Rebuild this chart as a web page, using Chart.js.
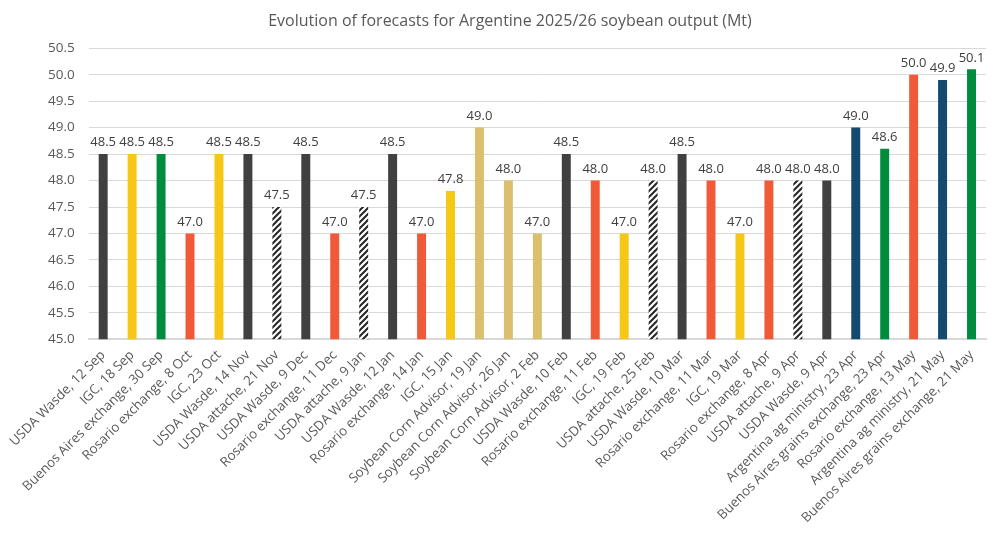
<!DOCTYPE html>
<html>
<head>
<meta charset="utf-8">
<script src="https://cdn.jsdelivr.net/npm/chart.js@4"></script>
<style>
  html, body { margin: 0; padding: 0; background: #fff; }
  #wrap { width: 1000px; height: 536px; }
</style>
</head>
<body>
<div id="wrap"><canvas id="myBarChart" width="1000" height="536"></canvas></div>
<script>
var labels = [
  'USDA Wasde, 12 Sep', 'IGC, 18 Sep', 'Buenos Aires exchange, 30 Sep', 'Rosario exchange, 8 Oct',
  'IGC, 23 Oct', 'USDA Wasde, 14 Nov', 'USDA attache, 21 Nov', 'USDA Wasde, 9 Dec',
  'Rosario exchange, 11 Dec', 'USDA attache, 9 Jan', 'USDA Wasde, 12 Jan', 'Rosario exchange, 14 Jan',
  'IGC, 15 Jan', 'Soybean Corn Advisor, 19 Jan', 'Soybean Corn Advisor, 26 Jan', 'Soybean Corn Advisor, 2 Feb',
  'USDA Wasde, 10 Feb', 'Rosario exchange, 11 Feb', 'IGC, 19 Feb', 'USDA attache, 25 Feb',
  'USDA Wasde, 10 Mar', 'Rosario exchange, 11 Mar', 'IGC, 19 Mar', 'Rosario exchange, 8 Apr',
  'USDA attache, 9 Apr', 'USDA Wasde, 9 Apr', 'Argentina ag ministry, 23 Apr', 'Buenos Aires grains exchange, 23 Apr',
  'Rosario exchange, 13 May', 'Argentina ag ministry, 21 May', 'Buenos Aires grains exchange, 21 May'
];
var output = [
  48.5, 48.5, 48.5, 47.0, 48.5, 48.5, 47.5, 48.5, 47.0, 47.5, 48.5, 47.0, 47.8, 49.0, 48.0, 47.0,
  48.5, 48.0, 47.0, 48.0, 48.5, 48.0, 47.0, 48.0, 48.0, 48.0, 49.0, 48.6, 50.0, 49.9, 50.1
];
var yMin = 45.0;
var yMax = 50.5;
var yStep = 0.5;

// hatched fill for the USDA attache bars
function hatch() {
  var c = document.createElement('canvas');
  c.width = 6; c.height = 6;
  var g = c.getContext('2d');
  g.fillStyle = '#ffffff';
  g.fillRect(0, 0, 6, 6);
  g.strokeStyle = '#262626';
  g.lineWidth = 2;
  g.beginPath();
  g.moveTo(-1, 7); g.lineTo(7, -1);
  g.moveTo(-4, 4); g.lineTo(4, -4);
  g.moveTo(2, 10); g.lineTo(10, 2);
  g.stroke();
  return g.createPattern(c, 'repeat');
}

function colourFor(name) {
  if (name.indexOf('USDA Wasde') === 0) return '#404040';
  if (name.indexOf('USDA attache') === 0) return hatch();
  if (name.indexOf('IGC') === 0) return '#F5C816';
  if (name.indexOf('Buenos Aires') === 0) return '#008C3F';
  if (name.indexOf('Rosario') === 0) return '#F15A38';
  if (name.indexOf('Soybean Corn') === 0) return '#D9BF6E';
  if (name.indexOf('Argentina') === 0) return '#134B70';
  return '#888888';
}
var colours = labels.map(colourFor);

var valueLabels = {
  id: 'valueLabels',
  afterDatasetsDraw: function(chart) {
    var ctx = chart.ctx;
    ctx.save();
    ctx.font = '13px "Open Sans", sans-serif';
    ctx.fillStyle = '#404040';
    ctx.textAlign = 'center';
    ctx.textBaseline = 'bottom';
    chart.getDatasetMeta(0).data.forEach(function(bar, i) {
      ctx.fillText(output[i].toFixed(1), bar.x, bar.y - 5);
    });
    ctx.restore();
  }
};

var ctx = document.getElementById('myBarChart').getContext('2d');
var myChart = new Chart(ctx, {
  type: 'bar',
  data: {
    labels: labels,
    datasets: [{
      label: 'Mt',
      data: output,
      backgroundColor: colours,
      borderWidth: 0,
      categoryPercentage: 1.0,
      barPercentage: 0.31
    }]
  },
  options: {
    responsive: false,
    animation: false,
    layout: { padding: { left: 34, right: 14, top: 0, bottom: 2 } },
    plugins: {
      legend: { display: false },
      tooltip: { enabled: false },
      title: {
        display: true,
        text: 'Evolution of forecasts for Argentine 2025/26 soybean output (Mt)',
        color: '#595959',
        font: { family: '"Open Sans", sans-serif', size: 16, weight: 'normal' },
        padding: { top: 12, bottom: 17 }
      }
    },
    scales: {
      x: {
        grid: { display: false, drawTicks: false },
        border: { color: '#D9D9D9', width: 2 },
        ticks: {
          color: '#595959',
          font: { family: '"Open Sans", sans-serif', size: 13.3 },
          maxRotation: 45,
          minRotation: 45,
          autoSkip: false,
          padding: 8
        }
      },
      y: {
        min: yMin,
        max: yMax,
        grid: { color: '#D9D9D9', drawTicks: false },
        border: { display: false },
        ticks: {
          stepSize: yStep,
          color: '#595959',
          font: { family: '"Open Sans", sans-serif', size: 13.5 },
          padding: 14,
          callback: function(v) { return Number(v).toFixed(1); }
        }
      }
    }
  },
  plugins: [valueLabels]
});
</script>
</body>
</html>
